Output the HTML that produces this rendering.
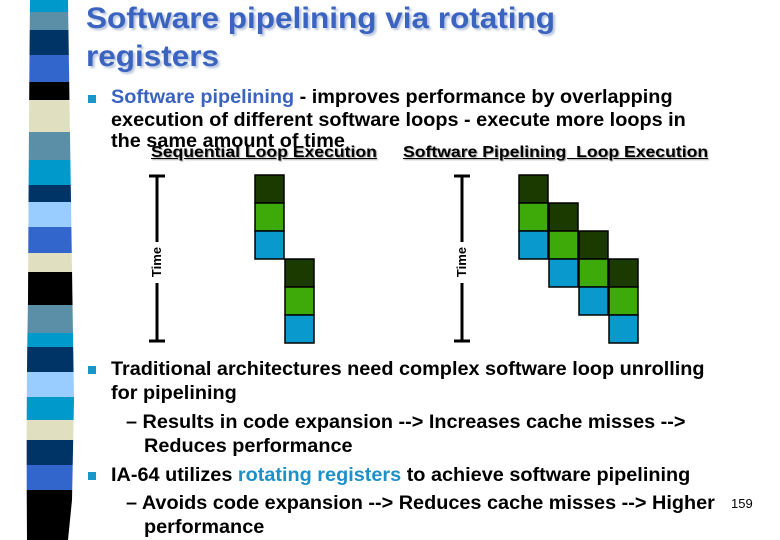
<!DOCTYPE html>
<html><head><meta charset="utf-8">
<style>
body{margin:0;width:780px;height:540px;background:#fff;overflow:hidden;position:relative;font-family:"Liberation Sans",Arial,sans-serif}
.t{position:absolute;white-space:nowrap;font-weight:bold;transform-origin:0 0}
.title{font-size:30px;color:#3a64c0;text-shadow:2px 2px 2px #b8c4dc;left:86px;transform:scaleX(1.05)}
.b{font-size:19px;color:#000;transform:scaleX(1.045)}
.blue{color:#3a64c0}
.lb{color:#1e90c8}
.bul{position:absolute;width:8px;height:8px;background:#1a96c8}
.hd{font-size:16px;text-decoration:underline;text-shadow:1px 1px 1px #999;transform:scaleX(1.1)}
</style></head><body>
<svg style="position:absolute;left:0;top:0" width="80" height="540">
<defs><clipPath id="c"><path d="M30 0 L68 0 Q72 270 74 400 L72 500 L68 540 L27 540 Q26 400 28 300 Q29 100 30 0Z"/></clipPath></defs>
<g clip-path="url(#c)" id="stripes"></g>
</svg>
<div class="t title" style="top:2px">Software pipelining via rotating</div>
<div class="t title" style="top:40px">registers</div>

<div class="bul" style="left:88px;top:95px"></div>
<div class="t b" style="left:111px;top:87px"><span class="blue">Software pipelining</span> - improves performance by overlapping</div>
<div class="t b" style="left:111px;top:110px">execution of different software loops - execute more loops in</div>
<div class="t b" style="left:111px;top:131px">the same amount of time</div>
<div class="t hd" style="left:151px;top:144px">Sequential Loop Execution</div>
<div class="t hd" style="left:403px;top:144px">Software Pipelining&nbsp; Loop Execution</div>

<svg style="position:absolute;left:0;top:0" width="780" height="540" id="diag">
<g stroke="#000" stroke-width="3">
<line x1="157" y1="176" x2="157" y2="242"/><line x1="157" y1="283" x2="157" y2="341"/>
<line x1="149" y1="176" x2="165" y2="176"/><line x1="149" y1="341" x2="165" y2="341"/></g>
<text x="161" y="262" transform="rotate(-90 161 262)" text-anchor="middle" font-family="Liberation Sans" font-weight="bold" font-size="13">Time</text>
<g stroke="#000" stroke-width="3">
<line x1="462" y1="176" x2="462" y2="242"/><line x1="462" y1="283" x2="462" y2="341"/>
<line x1="454" y1="176" x2="470" y2="176"/><line x1="454" y1="341" x2="470" y2="341"/></g>
<text x="466" y="262" transform="rotate(-90 466 262)" text-anchor="middle" font-family="Liberation Sans" font-weight="bold" font-size="13">Time</text>
</svg>

<div class="bul" style="left:88px;top:366px"></div>
<div class="t b" style="left:111px;top:359px">Traditional architectures need complex software loop unrolling</div>
<div class="t b" style="left:111px;top:383px">for pipelining</div>
<div class="t b" style="left:126px;top:412px">– Results in code expansion --&gt; Increases cache misses --&gt;</div>
<div class="t b" style="left:144px;top:436px">Reduces performance</div>
<div class="bul" style="left:88px;top:472px"></div>
<div class="t b" style="left:111px;top:465px">IA-64 utilizes <span class="lb">rotating registers</span> to achieve software pipelining</div>
<div class="t b" style="left:126px;top:493px">– Avoids code expansion --&gt; Reduces cache misses --&gt; Higher</div>
<div class="t b" style="left:144px;top:517px">performance</div>
<div class="t" style="left:731px;top:496px;font-size:13px;font-weight:normal">159</div>

<script>
var stripeEnds=[12,30,55,82,100,132,160,185,202,227,253,272,305,333,347,372,397,420,440,465,490,540];
var stripeCols=["#0099cc","#5b8fa8","#003366","#3366cc","#000","#e0e0c0","#5b8fa8","#0099cc","#003366","#99ccff","#3366cc","#e0e0c0","#000","#5b8fa8","#0099cc","#003366","#99ccff","#0099cc","#e0e0c0","#003366","#3366cc","#000"];
var ns="http://www.w3.org/2000/svg";
var g=document.getElementById('stripes');var y0=0;
stripeEnds.forEach(function(e,i){var r=document.createElementNS(ns,'rect');
r.setAttribute('x',0);r.setAttribute('y',y0);r.setAttribute('width',80);r.setAttribute('height',e-y0);r.setAttribute('fill',stripeCols[i]);


g.appendChild(r);y0=e;});
// stage blocks: [column, row, stage]
var seqCells=[[0,0,0],[0,1,1],[0,2,2],[1,3,0],[1,4,1],[1,5,2]];
var pipeCells=[[0,0,0],[0,1,1],[0,2,2],[1,1,0],[1,2,1],[1,3,2],[2,2,0],[2,3,1],[2,4,2],[3,3,0],[3,4,1],[3,5,2]];
var stageCols=["#1a3a00","#3daa0a","#0a99cc"];
var d=document.getElementById('diag');
function draw(cells,x0,y0,name){cells.forEach(function(c){var r=document.createElementNS(ns,'rect');
r.setAttribute('x',x0+c[0]*30);r.setAttribute('y',y0+c[1]*28);r.setAttribute('width',29);r.setAttribute('height',28);
r.setAttribute('fill',stageCols[c[2]]);r.setAttribute('stroke','#000');r.setAttribute('stroke-width',1.5);


d.appendChild(r);});}
draw(seqCells,255,175,'sequential-stage-block');
draw(pipeCells,519,175,'pipelined-stage-block');
</script>
</body></html>
